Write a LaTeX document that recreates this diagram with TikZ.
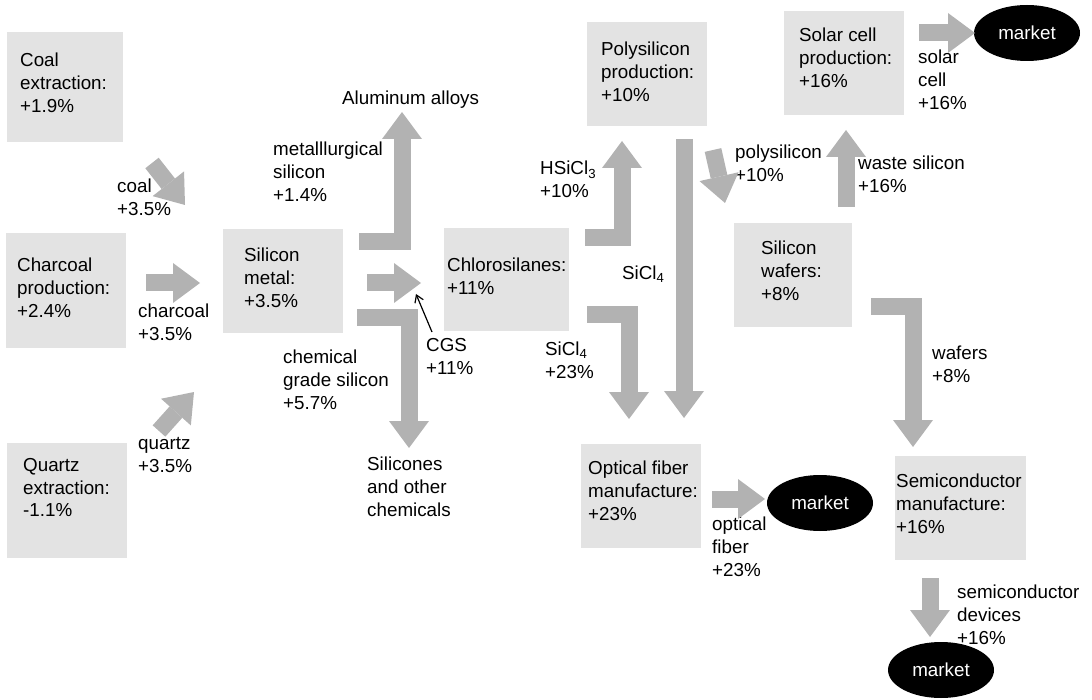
\documentclass[tikz,border=0pt]{standalone}
\usepackage{fontspec}
\setmainfont{Liberation Sans}
\usetikzlibrary{arrows.meta,shapes.geometric}
\definecolor{boxgray}{gray}{0.89}
\definecolor{arrgray}{gray}{0.70}
\begin{document}
\begin{tikzpicture}[x=1pt,y=-1pt,
  every node/.style={font=\fontsize{18.8}{22.8}\selectfont, inner sep=0pt},
  procbox/.style={fill=boxgray, anchor=north west},
  lbl/.style={anchor=north west, align=left, execute at begin node={\rule{0pt}{15pt}}},
  fat/.style={draw=arrgray, line width=17pt, line join=miter,
    -{Triangle[width=40pt,length=27pt,line width=0pt]}},
  mkt/.style={ellipse, fill=black, text=white, minimum width=106pt, minimum height=56pt}
]
\useasboundingbox (0,0) rectangle (1092,700);

% process boxes
\node[procbox, minimum width=116pt, minimum height=110pt] (coal) at (7,32) {};
\node[procbox, minimum width=120pt, minimum height=115pt] (charcoal) at (6,233) {};
\node[procbox, minimum width=120pt, minimum height=115pt] (quartz) at (7,443) {};
\node[procbox, minimum width=120pt, minimum height=104pt] (simetal) at (223,229) {};
\node[procbox, minimum width=125pt, minimum height=103pt] (chloro) at (444,228) {};
\node[procbox, minimum width=120pt, minimum height=104pt] (poly) at (587,22) {};
\node[procbox, minimum width=120pt, minimum height=104pt] (solar) at (784,11) {};
\node[procbox, minimum width=118pt, minimum height=104pt] (wafers) at (734,223) {};
\node[procbox, minimum width=120pt, minimum height=104pt] (optical) at (581,444) {};
\node[procbox, minimum width=131pt, minimum height=104pt] (semi) at (895,456) {};

% box texts
\node[lbl] (coalT) at (20,53) {Coal\\extraction:\\+1.9\%};
\node[lbl] (charcoalT) at (17,258) {Charcoal\\production:\\+2.4\%};
\node[lbl] (quartzT) at (23,458) {Quartz\\extraction:\\-1.1\%};
\node[lbl] (simetalT) at (244,248) {Silicon\\metal:\\+3.5\%};
\node[lbl] (chloroT) at (447,258) {Chlorosilanes:\\+11\%};
\node[lbl] (polyT) at (601,42) {Polysilicon\\production:\\+10\%};
\node[lbl] (solarT) at (799,28) {Solar cell\\production:\\+16\%};
\node[lbl] (wafersT) at (761,241) {Silicon\\wafers:\\+8\%};
\node[lbl] (opticalT) at (588,461) {Optical fiber\\manufacture:\\+23\%};
\node[lbl] (semiT) at (896,474) {Semiconductor\\manufacture:\\+16\%};

% markets
\node[mkt] (mktTop) at (1027,33) {market};
\node[mkt] (mktMid) at (820,503) {market};
\node[mkt] (mktBot) at (941,670) {market};

% flow labels
\node[lbl] (alL) at (342,89) {Aluminum alloys};
\node[lbl] (metL) at (273,142) {metalllurgical\\silicon\\+1.4\%};
\node[lbl] (coalL) at (117,179) {coal\\+3.5\%};
\node[lbl] (charL) at (138,304) {charcoal\\+3.5\%};
\node[lbl] (quartzL) at (138,437) {quartz\\+3.5\%};
\node[lbl] (chemL) at (283,350) {chemical\\grade silicon\\+5.7\%};
\node[lbl] (cgsL) at (426,338) {CGS\\+11\%};
\node[lbl] (siliconesL) at (367,457) {Silicones\\and other\\chemicals};
\node[lbl] (hsiL) at (540,161) {HSiCl\textsubscript{3}\\+10\%};
\node[lbl] (siclAL) at (622,264) {SiCl\textsubscript{4}};
\node[lbl] (siclBL) at (545,342) {SiCl\textsubscript{4}\\+23\%};
\node[lbl] (polyL) at (735,145) {polysilicon\\+10\%};
\node[lbl] (wasteL) at (858,156) {waste silicon\\+16\%};
\node[lbl] (solarL) at (918,50) {solar\\cell\\+16\%};
\node[lbl] (wafersL) at (932,346) {wafers\\+8\%};
\node[lbl] (opticalL) at (712,517) {optical\\fiber\\+23\%};
\node[lbl] (semiL) at (957,585) {semiconductor\\devices\\+16\%};

% connector end points
\coordinate (coalA) at (152,163);   \coordinate (coalB) at (185,205);
\coordinate (charA) at (146,283);   \coordinate (charB) at (200,283);
\coordinate (quartzA) at (159,431); \coordinate (quartzB) at (194,392);
\coordinate (siA) at (367,283);     \coordinate (siB) at (421,283);
\coordinate (alA) at (359,242);     \coordinate (alB) at (402,112);
\coordinate (chemA) at (357,318);   \coordinate (chemB) at (409,448);
\coordinate (hsiA) at (585,238);    \coordinate (hsiB) at (622,141);
\coordinate (longA) at (684,139);   \coordinate (longB) at (684,418);
\coordinate (siclA) at (587,315);   \coordinate (siclB) at (629,419);
\coordinate (polyA) at (713,150);   \coordinate (polyB) at (725,203);
\coordinate (wasteA) at (846,207);  \coordinate (wasteB) at (846,130);
\coordinate (solarA) at (919,33);   \coordinate (solarB) at (975,33);
\coordinate (wafA) at (871,307);    \coordinate (wafB) at (913,447);
\coordinate (optA) at (712,499);    \coordinate (optB) at (765,499);
\coordinate (semA) at (930,578);    \coordinate (semB) at (930,637);
\coordinate (cgsA) at (432,332);    \coordinate (cgsB) at (416,294);

% fat arrows
\draw[fat] (coalA) -- (coalB);
\draw[fat] (charA) -- (charB);
\draw[fat] (quartzA) -- (quartzB);
\draw[fat] (siA) -- (siB);
\draw[fat] (alA) -| (alB);
\draw[fat] (chemA) -| (chemB);
\draw[fat] (hsiA) -| (hsiB);
\draw[fat] (longA) -- (longB);
\draw[fat] (siclA) -| (siclB);
\draw[fat] (polyA) -- (polyB);
\draw[fat] (wasteA) -- (wasteB);
\draw[fat] (solarA) -- (solarB);
\draw[fat] (wafA) -| (wafB);
\draw[fat] (optA) -- (optB);
\draw[fat] (semA) -- (semB);

% thin CGS pointer
\draw[line width=1.2pt, -{Straight Barb[length=7pt,width=9pt]}] (cgsA) -- (cgsB);
\end{tikzpicture}
\end{document}
